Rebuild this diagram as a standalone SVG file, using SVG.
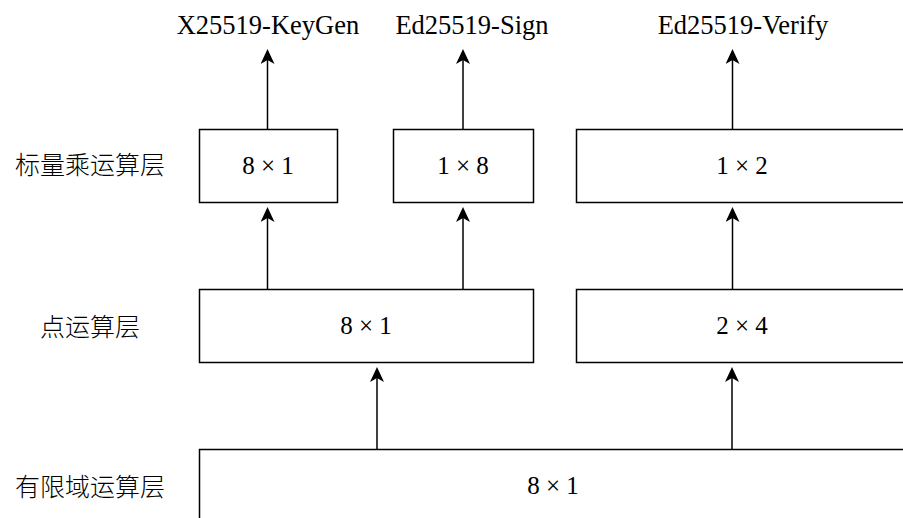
<svg xmlns="http://www.w3.org/2000/svg" width="903" height="518" viewBox="0 0 903 518">
<style>
.box{fill:#fff;stroke:#000;stroke-width:1.5}
.cn{font-family:"Noto Sans CJK SC",sans-serif;font-size:25px;font-weight:300;fill:#000;text-anchor:middle}
.en{font-family:"Liberation Serif",serif;font-size:26.5px;fill:#000;text-anchor:middle}
.m{font-family:"Liberation Serif",serif;font-size:25px;fill:#000;text-anchor:middle}
.c{stroke:#000;stroke-width:1.5;fill:none;marker-end:url(#ah)}
</style>
<defs>
<marker id="ah" markerUnits="userSpaceOnUse" viewBox="0 0 15 14" markerWidth="15" markerHeight="14" refX="5" refY="7" orient="auto">
<path d="M0,0 L15,7 L0,14 L4,7 Z" fill="#000"/>
</marker>
</defs>
<rect width="903" height="518" fill="#fff"/>
<g id="labels">
<text class="cn" x="90" y="174">标量乘运算层</text>
<text class="cn" x="90" y="336">点运算层</text>
<text class="cn" x="90" y="496">有限域运算层</text>
</g>
<g id="out-keygen"><text class="en" x="268" y="34">X25519-KeyGen</text></g>
<g id="out-sign"><text class="en" x="472" y="34">Ed25519-Sign</text></g>
<g id="out-verify"><text class="en" x="743" y="34">Ed25519-Verify</text></g>
<g id="scalar-1"><rect class="box" x="199.5" y="129.5" width="138" height="73"/><text class="m" x="268" y="174">8 × 1</text></g>
<g id="scalar-2"><rect class="box" x="393.5" y="129.5" width="140" height="73"/><text class="m" x="463" y="174">1 × 8</text></g>
<g id="scalar-3"><rect class="box" x="576.5" y="129.5" width="340" height="73"/><text class="m" x="742" y="174">1 × 2</text></g>
<g id="point-1"><rect class="box" x="199.5" y="289.5" width="334" height="73"/><text class="m" x="366" y="334">8 × 1</text></g>
<g id="point-2"><rect class="box" x="576.5" y="289.5" width="340" height="73"/><text class="m" x="742" y="334">2 × 4</text></g>
<g id="field"><rect class="box" x="199.5" y="449.5" width="720" height="100"/><text class="m" x="553" y="494">8 × 1</text></g>
<g id="connectors">
<path class="c" d="M267.5,129 V59"/>
<path class="c" d="M463,129 V59"/>
<path class="c" d="M732.5,129 V59"/>
<path class="c" d="M267.5,289 V217"/>
<path class="c" d="M463,289 V217"/>
<path class="c" d="M732.5,289 V217"/>
<path class="c" d="M377,449 V377"/>
<path class="c" d="M732,449 V377"/>
</g>
</svg>
